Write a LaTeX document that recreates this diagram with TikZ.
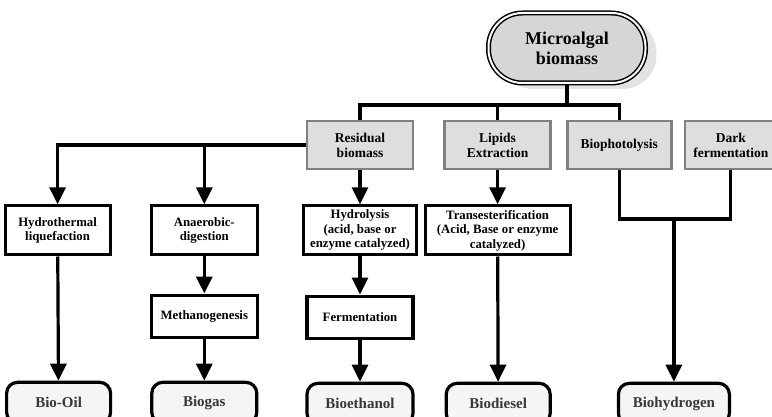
\documentclass[tikz,border=0pt]{standalone}
\usepackage{fontspec}
\setmainfont{Liberation Serif}
\usetikzlibrary{arrows.meta,positioning,shadows}

\begin{document}
\begin{tikzpicture}[
  x=1pt, y=-1pt,
  >={Triangle[length=17pt, width=16pt]},
  srcbox/.style={draw, double, double distance=2pt, line width=1.5pt, fill=black!16,
                 rounded corners=34pt, minimum width=157pt, minimum height=70pt,
                 align=center, font=\fontsize{18}{20}\selectfont\bfseries,
                 drop shadow={shadow xshift=11pt, shadow yshift=-6pt, fill=black!11, opacity=1}},
  route/.style={draw=black!50, line width=2.6pt, fill=black!13, align=center,
                minimum height=48pt, inner sep=2pt, font=\fontsize{13.5}{15}\selectfont\bfseries},
  stepbox/.style={draw, line width=3.2pt, fill=white, align=center, inner sep=2pt,
                  minimum height=49pt, font=\fontsize{12.8}{14.5}\selectfont\bfseries},
  fuel/.style={draw, line width=3.2pt, fill=black!4, rounded corners=11pt,
               minimum height=41pt, text=black!78, font=\fontsize{15}{17}\selectfont\bfseries},
  conn/.style={line width=3.2pt},
  flow/.style={->, line width=3.2pt},
]
\useasboundingbox (0,0) rectangle (772,417);

% ---- feedstock and conversion routes ---------------------------------------
\node[srcbox] (algae) at (567,48) {Microalgal\\biomass};

\node[route, minimum width=106pt] (resid) at (360,145) {Residual\\biomass};
\node[route, minimum width=106pt, right=29pt of resid] (lipid) {Lipids\\Extraction};
\node[route, minimum width=104pt, right=14pt of lipid] (photo) {Biophotolysis};
\node[route, minimum width=92pt,  right=11pt of photo] (dark)  {Dark\\fermentation};

% ---- processing steps --------------------------------------------------------
\node[stepbox, minimum width=113pt, below=34pt of resid] (hydrol)
     {Hydrolysis\\(acid, base or\\enzyme catalyzed)};
\node[stepbox, minimum width=145pt, below=34pt of lipid] (trans)
     {Transesterification\\(Acid, Base or enzyme\\catalyzed)};
\node[stepbox, minimum width=106pt, left=43pt of hydrol] (anaer) {Anaerobic-\\digestion};
\node[stepbox, minimum width=105pt, left=38pt of anaer]  (hydro) {Hydrothermal\\liquefaction};

\node[stepbox, minimum width=106pt, minimum height=42pt, below=37pt of anaer]  (methano) {Methanogenesis};
\node[stepbox, minimum width=106pt, minimum height=42pt, below=38pt of hydrol] (ferm)    {Fermentation};

% ---- products ----------------------------------------------------------------
\node[fuel, minimum width=105pt, below=42pt of methano] (biogas)  {Biogas};
\node[fuel, minimum width=106pt, below=42pt of ferm]    (bioeth)  {Bioethanol};
\node[fuel, minimum width=104pt, left=38pt of biogas]   (biooil)  {Bio-Oil};
\node[fuel, minimum width=104pt, right=30pt of bioeth]  (biodies) {Biodiesel};
\node[fuel, minimum width=111pt, right=65pt of biodies] (biohyd)  {Biohydrogen};

% trunk from the biomass to the three connected routes
\coordinate (bus) at (567,105);
\draw[conn] (algae.south) -- (algae.south |- bus);
\draw[conn] (resid.north) -- (resid.north |- bus) -- (photo.north |- bus) -- (photo.north);
\draw[conn] (lipid.north) -- (lipid.north |- bus);

% residual biomass also feeds the two left-hand routes
\draw[flow] (resid.west) -| (hydro.north);
\draw[flow] (anaer.north |- resid.west) -- (anaer.north);

\foreach \a/\b in {resid/hydrol, hydrol/ferm, ferm/bioeth, lipid/trans, trans/biodies,
                   anaer/methano, methano/biogas, hydro/biooil}
  \draw[flow] (\a) -- (\b);

% both hydrogen routes merge before the product
\coordinate (join) at (0,219);
\draw[conn] (photo.south) -- (photo.south |- join) -- (dark.south |- join) -- (dark.south);
\draw[flow] (biohyd.north |- join) -- (biohyd.north);
\end{tikzpicture}
\end{document}
